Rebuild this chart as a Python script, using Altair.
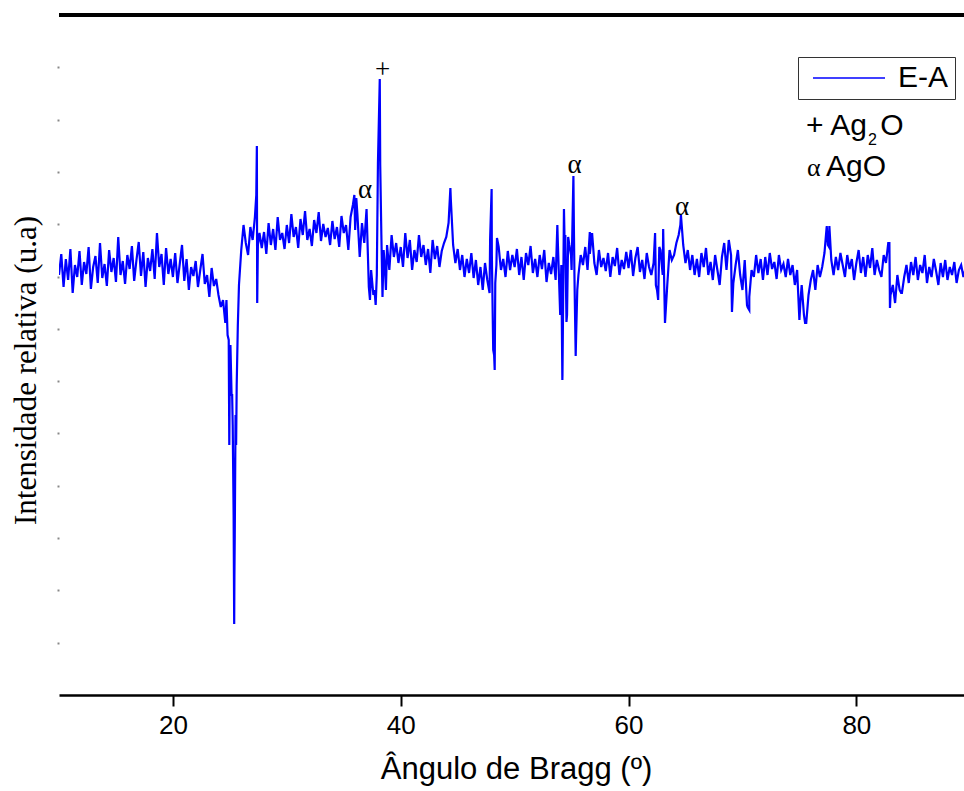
import altair as alt
import pandas as pd

# ---------------- data ----------------
# Base trace sampled every 0.2 degrees; intensity in arbitrary units (0..680)
X_STEP = 0.2
seg_10 = [420, 441, 408, 436, 415, 446, 402, 430, 418, 444,
          410, 433, 421, 448, 406, 428, 439, 412, 452, 417,
          431, 409, 445, 423, 437, 413, 458, 420, 434, 411,
          440, 426, 449, 414, 435, 453, 419, 443, 408, 437,
          424, 446, 416, 462, 428, 441, 410, 447, 421, 436]
seg_20 = [418, 442, 412, 431, 450, 414, 436, 405, 428, 419,
          434, 408, 425, 441, 411, 420, 398, 427, 409, 416,
          400, 388, 395, 372, 360, 330, 300, 120, 310, 410,
          445, 470, 452, 440, 468, 455, 478, 392, 462, 447,
          463, 441, 472, 450, 466, 445, 478, 455, 462, 446]
seg_30 = [470, 452, 481, 458, 468, 447, 476, 460, 484, 455,
          466, 449, 475, 462, 483, 454, 471, 458, 467, 450,
          474, 456, 468, 448, 479, 462, 470, 445, 478, 490,
          465, 480, 438, 472, 452, 486, 408, 425, 400, 390,
          532, 530, 398, 430, 450, 425, 460, 438, 452, 432]
seg_40 = [448, 428, 462, 437, 455, 425, 445, 433, 460, 438,
          450, 430, 446, 422, 455, 436, 449, 428, 444, 452,
          458, 472, 495, 450, 432, 446, 425, 440, 418, 436,
          422, 442, 417, 435, 410, 428, 405, 432, 415, 402,
          440, 340, 430, 448, 425, 436, 418, 444, 425, 440]
seg_50 = [428, 446, 420, 438, 415, 442, 430, 449, 422, 436,
          418, 440, 426, 445, 413, 432, 421, 438, 415, 450,
          380, 320, 445, 380, 450, 425, 470, 360, 420, 440,
          430, 448, 425, 441, 462, 432, 420, 445, 428, 437,
          424, 442, 418, 438, 429, 447, 420, 435, 426, 443]
seg_60 = [427, 445, 419, 437, 448, 423, 435, 416, 442, 428,
          420, 432, 410, 395, 445, 420, 372, 410, 445, 435,
          440, 452, 460, 480, 450, 432, 445, 425, 440, 420,
          436, 418, 442, 428, 447, 420, 433, 415, 440, 425,
          410, 438, 452, 425, 455, 440, 412, 430, 445, 420]
seg_70 = [405, 435, 390, 398, 425, 418, 440, 422, 436, 415,
          438, 420, 442, 426, 433, 416, 440, 425, 431, 418,
          436, 420, 430, 410, 425, 375, 410, 380, 372, 400,
          415, 425, 405, 430, 418, 428, 442, 469, 448, 435,
          420, 438, 425, 442, 430, 418, 440, 426, 436, 415]
seg_80 = [432, 445, 422, 438, 418, 440, 427, 447, 420, 435,
          425, 418, 440, 432, 452, 400, 410, 392, 420, 405,
          402, 418, 430, 412, 433, 420, 438, 415, 430, 422,
          440, 412, 428, 418, 436, 424, 410, 432, 418, 435,
          415, 428, 420, 433, 412, 425, 430, 418, 427]
segments = [(10.0, seg_10), (20.0, seg_20), (30.0, seg_30), (40.0, seg_40),
            (50.0, seg_50), (60.0, seg_60), (70.0, seg_70), (80.0, seg_80)]

# Sharp peaks / dips
feat_x = [24.7, 24.9, 24.95, 25.05, 25.15, 25.25, 25.33, 25.38, 25.43, 25.5, 25.55, 25.7,
          27.32, 27.37, 27.46,
          35.93, 36.1, 37.3, 37.7,
          37.9, 38.16, 38.3, 38.5, 38.7,
          44.36,
          47.85, 47.98, 48.05, 48.12, 48.25, 48.3, 48.45,
          53.75, 54.1, 54.19, 54.33, 54.45, 54.55, 54.7, 54.95, 55.16, 55.25, 55.36, 55.5,
          56.6,
          62.33, 62.5, 62.7, 63.04,
          64.55,
          69.08,
          70.45, 70.6,
          75.1, 75.5,
          77.5, 77.63,
          82.9, 82.95, 83.93]
feat_y = [395, 355, 250, 350, 300, 270, 180, 71, 160, 280, 250, 370,
          500, 549, 450,
          500, 497, 395, 405,
          420, 616, 460, 445, 405,
          507,
          457, 506, 400, 345, 325, 412, 457,
          470, 430, 315, 486, 460, 373, 458, 440, 519, 420, 339, 405,
          463,
          462, 405, 448, 466,
          470,
          383,
          388, 385,
          395, 372,
          450, 469,
          452, 387, 402]

series_name = "E-A"

# Peak markers
mark_x = [38.40, 36.86, 55.26, 64.70]
mark_y = [625, 505, 530, 488]
mark_txt = ["+", "α", "α", "α"]

# Legend-like notes (phases)
note_x = [75.58, 82.1, 77.34]
note_y = [560, 560, 519]
note_txt = ["+ Ag", "O", "AgO"]
sub_x = [81.02]
sub_y = [550]
sub_txt = ["2"]
alpha_x = [75.67]
alpha_y = [519]
alpha_txt = ["α"]

y_tick_values = [round(680 / 13 * k, 2) for k in range(1, 13)]
x_tick_values = [20, 40, 60, 80]

# ---------------- build tables ----------------
rows = []
for start, vals in segments:
    for i, v in enumerate(vals):
        rows.append({"angle": round(start + X_STEP * i, 3), "intensity": v, "series": series_name})
for xv, yv in zip(feat_x, feat_y):
    rows.append({"angle": xv, "intensity": yv, "series": series_name})
df = pd.DataFrame(rows).sort_values("angle").reset_index(drop=True)

marks_df = pd.DataFrame({"angle": mark_x, "intensity": mark_y, "label": mark_txt})
notes_df = pd.DataFrame({"angle": note_x, "intensity": note_y, "label": note_txt})
sub_df = pd.DataFrame({"angle": sub_x, "intensity": sub_y, "label": sub_txt})
alpha_df = pd.DataFrame({"angle": alpha_x, "intensity": alpha_y, "label": alpha_txt})

# ---------------- encodings ----------------
x_scale = alt.Scale(domain=[10, 89.45], nice=False, zero=False)
y_scale = alt.Scale(domain=[0, 680], nice=False, zero=False)

x_axis = alt.Axis(values=x_tick_values, title="Ângulo de Bragg (º)", grid=False,
                  domainColor="black", domainWidth=2.5,
                  tickColor="black", tickWidth=2, tickSize=11,
                  labelFont="Liberation Sans", labelFontSize=26, labelColor="black",
                  labelPadding=6,
                  titleFont="Liberation Sans", titleFontSize=31, titleFontWeight="normal",
                  titleColor="black", titleX=457, titleY=83,
                  titleAlign="center", titleBaseline="alphabetic")
y_axis = alt.Axis(values=y_tick_values, labels=False, domain=False, grid=False,
                  tickColor="#888888", tickSize=2, tickWidth=2,
                  title="Intensidade relativa  (u.a)",
                  titleFont="Liberation Serif", titleFontSize=31, titleFontWeight="normal",
                  titleColor="black", titleX=-24, titleY=355, titleAngle=270,
                  titleAlign="center", titleBaseline="alphabetic")

line = alt.Chart(df).mark_line(strokeWidth=2.2, clip=True).encode(
    x=alt.X("angle:Q", scale=x_scale, axis=x_axis),
    y=alt.Y("intensity:Q", scale=y_scale, axis=y_axis),
    color=alt.Color("series:N",
                    scale=alt.Scale(domain=[series_name], range=["#0000ff"]),
                    legend=alt.Legend(title=None, orient="none", legendX=739, legendY=42,
                                      symbolType="M-0.5,0H5.5", symbolSize=576,
                                      symbolStrokeWidth=1.5,
                                      labelFont="Liberation Sans", labelFontSize=30,
                                      labelColor="black", labelOffset=64,
                                      strokeColor="#333333", padding=6)),
)

top_rule = alt.Chart(df).mark_rule(color="black", strokeWidth=2.5).encode(
    y=alt.datum(680)
)

peak_marks = alt.Chart(marks_df).mark_text(font="Liberation Serif", fontSize=27,
                                           color="black", baseline="middle",
                                           align="center").encode(
    x="angle:Q", y="intensity:Q", text="label:N")

notes = alt.Chart(notes_df).mark_text(font="Liberation Sans", fontSize=30, color="black",
                                      baseline="alphabetic", align="left").encode(
    x="angle:Q", y="intensity:Q", text="label:N")

subs = alt.Chart(sub_df).mark_text(font="Liberation Sans", fontSize=16, color="black",
                                   baseline="alphabetic", align="left").encode(
    x="angle:Q", y="intensity:Q", text="label:N")

alphas = alt.Chart(alpha_df).mark_text(font="Liberation Serif", fontSize=26, color="black",
                                       baseline="alphabetic", align="left").encode(
    x="angle:Q", y="intensity:Q", text="label:N")

chart = alt.layer(line, top_rule, peak_marks, notes, subs, alphas).properties(
    width=905, height=680,
    autosize=alt.AutoSizeParams(type="none"),
    padding={"left": 59, "top": 15, "right": 0, "bottom": 96},
    background="white",
).configure_view(stroke=None)

chart.save("out.html", embed_options={"renderer": "svg", "actions": False})
